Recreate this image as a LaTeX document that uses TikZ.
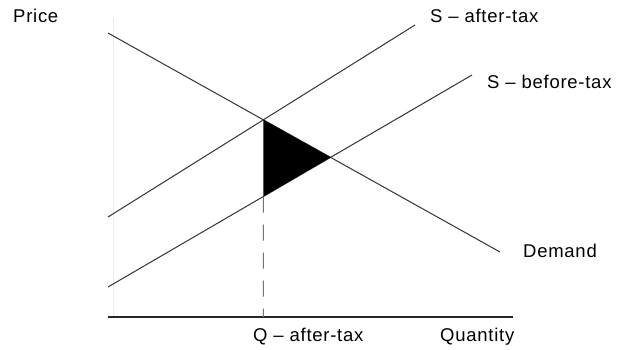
\documentclass[tikz,border=0pt]{standalone}
\usepackage{fontspec}
\setmainfont{Liberation Sans}
\newfontfamily\lblfont[LetterSpace=4]{Liberation Sans}
\usetikzlibrary{positioning,calc}

\begin{document}
\begin{tikzpicture}[
    x=1pt, y=-1pt,
    curve/.style={draw=black!80, line width=1pt},
    axisline/.style={draw=black!85, line width=1.6pt},
    lbl/.style={anchor=base west, inner sep=0pt, font=\lblfont\fontsize{18.5}{22}\selectfont}
]
\useasboundingbox (0,0) rectangle (619,349);

% Assi
\coordinate (origin) at (108,317);
\coordinate (xEnd) at (513,317);
\coordinate (yEnd) at (113,18);
\draw[draw=black!8, line width=0.6pt] (origin -| yEnd) -- (yEnd);
\draw[axisline] (origin) -- (xEnd);

% Curve
\coordinate (dA) at (108,33);
\coordinate (dB) at (500,252);
\coordinate (aA) at (108,217);
\coordinate (aB) at (415,25);
\coordinate (bA) at (108,287);
\coordinate (bB) at (472,75);
\draw[curve] (dA) -- (dB);
\draw[curve] (aA) -- (aB);
\draw[curve] (bA) -- (bB);

% Triangolo
\coordinate (eTop) at (intersection of dA--dB and aA--aB);
\coordinate (qAx) at (eTop |- xEnd);
\coordinate (eLow) at (intersection of bA--bB and eTop--qAx);
\coordinate (eMid) at (intersection of dA--dB and bA--bB);
\fill[black] (eTop) -- (eLow) -- (eMid) -- cycle;
\draw[black!55, line width=0.9pt, dash pattern=on 16pt off 12pt] (eLow) -- (qAx);

% Etichette
\node[lbl] (price) at (13,22) {Price};
\node[lbl] (safter) at (430,22) {S – after-tax};
\node[lbl] (sbefore) at (487,88) {S – before-tax};
\node[lbl] (demand) at (523,257) {Demand};
\node[lbl] (qafter) at (253,341) {Q – after-tax};
\node[lbl] (quantity) at (440,341) {Quantity};

\end{tikzpicture}
\end{document}
